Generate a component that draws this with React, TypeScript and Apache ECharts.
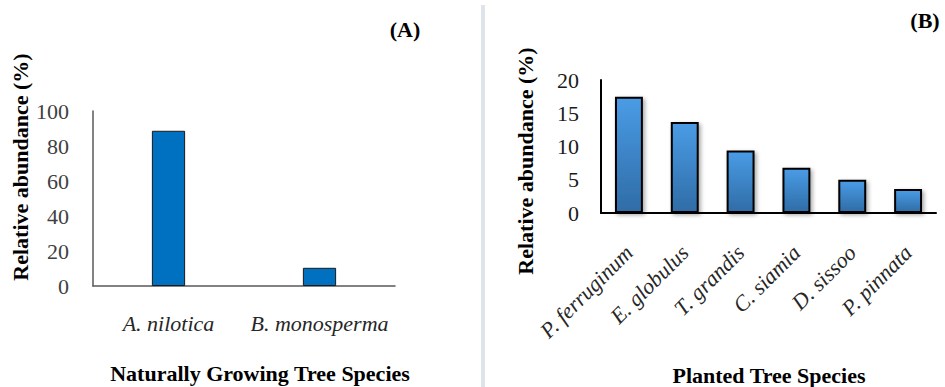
import React, { useEffect, useRef } from "react";
import * as echarts from "echarts";

const speciesA = ["A. nilotica", "B. monosperma"];
const valuesA = [88.7, 10.4];
const ticksA = [0, 20, 40, 60, 80, 100];

const speciesB = ["P. ferruginum", "E. globulus", "T. grandis", "C. siamia", "D. sissoo", "P. pinnata"];
const valuesB = [17.5, 13.7, 9.4, 6.8, 5.0, 3.6];
const ticksB = [0, 5, 10, 15, 20];

const yTitle = "Relative abundance (%)";
const xTitleA = "Naturally Growing Tree Species";
const xTitleB = "Planted Tree Species";
const panelA = "(A)";
const panelB = "(B)";

const FONT = "Times New Roman, Liberation Serif, serif";

export default function App() {
  const ref = useRef<HTMLDivElement>(null);
  useEffect(() => {
    if (!ref.current) return;
    const chart = echarts.init(ref.current, null, { renderer: "svg" });
    const titleStyle = (text: string) => ({
      text,
      fontFamily: FONT,
      fontWeight: "bold",
      fontSize: 22,
      fill: "#000",
      align: "center",
      verticalAlign: "middle",
    });
    chart.setOption({
      animation: false,
      backgroundColor: "#ffffff",
      textStyle: { fontFamily: FONT },
      grid: [
        { left: 93, top: 111, width: 302, height: 175 },
        { left: 601, top: 80, width: 335, height: 133 },
      ],
      xAxis: [
        {
          type: "category",
          gridIndex: 0,
          data: speciesA,
          axisLine: { lineStyle: { color: "#595959", width: 1.5 } },
          axisTick: { show: false },
          axisLabel: { fontFamily: FONT, fontStyle: "italic", fontSize: 22, color: "#262626", margin: 26, interval: 0 },
        },
        {
          type: "category",
          gridIndex: 1,
          data: speciesB,
          axisLine: { lineStyle: { color: "#000000", width: 2 } },
          axisTick: { show: false },
          axisLabel: { fontFamily: FONT, fontStyle: "italic", fontSize: 22, color: "#262626", rotate: 45, margin: 36, interval: 0 },
        },
      ],
      yAxis: [
        {
          type: "value",
          gridIndex: 0,
          min: ticksA[0],
          max: ticksA[ticksA.length - 1],
          interval: 20,
          splitLine: { show: false },
          axisLine: { show: true, lineStyle: { color: "#595959", width: 1.5 } },
          axisTick: { show: false },
          axisLabel: { fontFamily: FONT, fontSize: 22, color: "#404040", margin: 24 },
        },
        {
          type: "value",
          gridIndex: 1,
          min: ticksB[0],
          max: ticksB[ticksB.length - 1],
          interval: 5,
          splitLine: { show: false },
          axisLine: { show: true, lineStyle: { color: "#000000", width: 2 } },
          axisTick: { show: false },
          axisLabel: { fontFamily: FONT, fontSize: 22, color: "#1a1a1a", margin: 22 },
        },
      ],
      series: [
        {
          type: "bar",
          xAxisIndex: 0,
          yAxisIndex: 0,
          data: valuesA,
          barWidth: "22%",
          itemStyle: { color: "#0070c0", borderColor: "#1a1a1a", borderWidth: 1 },
        },
        {
          type: "bar",
          xAxisIndex: 1,
          yAxisIndex: 1,
          data: valuesB,
          barWidth: "50%",
          itemStyle: {
            color: new echarts.graphic.LinearGradient(0, 0, 0, 1, [
              { offset: 0, color: "#4a9ce6" },
              { offset: 1, color: "#2f6ca6" },
            ]),
            borderColor: "#000000",
            borderWidth: 2,
            shadowBlur: 4,
            shadowColor: "rgba(0,0,0,0.35)",
            shadowOffsetX: 2,
            shadowOffsetY: 2,
          },
        },
      ],
      graphic: [
        {
          type: "rect",
          shape: { x: 481, y: 5, width: 4, height: 382 },
          style: { fill: "#dfe3ea" },
        },
        { type: "text", x: 20, y: 167, rotation: Math.PI / 2, style: titleStyle(yTitle) },
        { type: "text", x: 525, y: 161, rotation: Math.PI / 2, style: titleStyle(yTitle) },
        { type: "text", x: 260, y: 373, style: titleStyle(xTitleA) },
        { type: "text", x: 769, y: 375, style: titleStyle(xTitleB) },
        { type: "text", x: 405, y: 29, style: titleStyle(panelA) },
        { type: "text", x: 925, y: 20, style: titleStyle(panelB) },
      ],
    });
    return () => chart.dispose();
  }, []);
  return (
    <div
      ref={ref}
      style={{ position: "absolute", left: 0, top: 0, width: 945, height: 387 }}
    />
  );
}
